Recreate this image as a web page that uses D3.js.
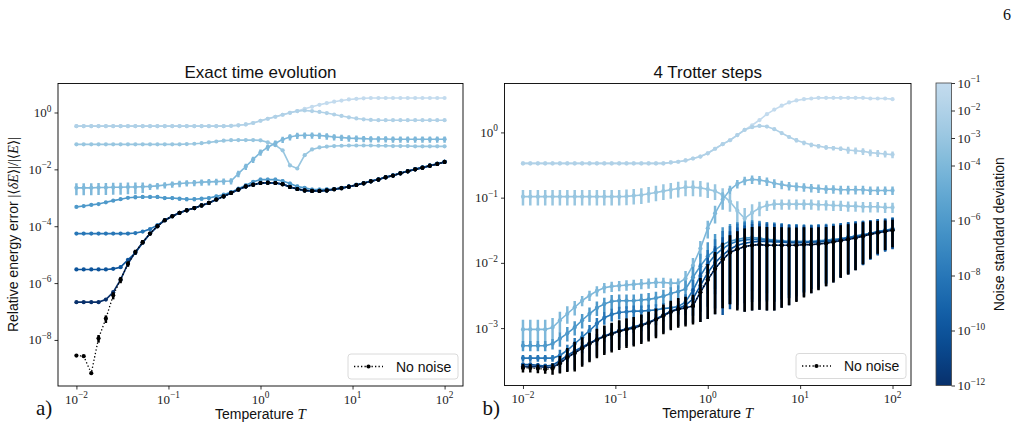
<!DOCTYPE html>
<html>
<head>
<meta charset="utf-8">
<script src="https://cdn.jsdelivr.net/npm/d3@7"></script>
<style>
  body { margin: 0; background: #fff; }
  svg { display: block; }
</style>
</head>
<body>
<div id="chart"></div>
<script>
// temperature grid (51 points, 1e-2 .. 1e2)
const temperatures = [0.01, 0.0120, 0.0145, 0.0174, 0.0209, 0.0251, 0.0302, 0.0363, 0.0437, 0.0525,
  0.0631, 0.0759, 0.0912, 0.110, 0.132, 0.158, 0.191, 0.229, 0.275, 0.331,
  0.398, 0.479, 0.575, 0.692, 0.832, 1.00, 1.20, 1.45, 1.74, 2.09,
  2.51, 3.02, 3.63, 4.37, 5.25, 6.31, 7.59, 9.12, 11.0, 13.2,
  15.8, 19.1, 22.9, 27.5, 33.1, 39.8, 47.9, 57.5, 69.2, 83.2, 100];

const noiseLevels = [1e-1, 1e-2, 1e-3, 1e-4, 1e-6, 1e-8, 1e-10, 1e-12];
const xTickExps = [-2, -1, 0, 1, 2];
const exactYTickExps = [-8, -6, -4, -2, 0];
const trotterYTickExps = [-3, -2, -1, 0];
const cbarTickExps = [-1, -2, -3, -4, -6, -8, -10, -12];

// ---- a) exact time evolution, log10 of relative energy error ----
const exactSig01 = [-0.48,-0.48,-0.48,-0.48,-0.48,-0.48,-0.48,-0.48,-0.48,-0.48,
  -0.48,-0.48,-0.48,-0.48,-0.48,-0.48,-0.48,-0.48,-0.48,-0.48,
  -0.48,-0.47,-0.45,-0.42,-0.37,-0.29,-0.22,-0.15,-0.08,-0.01,
  0.05,0.13,0.20,0.27,0.33,0.38,0.42,0.46,0.48,0.50,
  0.51,0.51,0.51,0.51,0.51,0.51,0.51,0.51,0.51,0.51,0.51];
const exactSig02 = [-0.48,-0.48,-0.48,-0.48,-0.48,-0.48,-0.48,-0.48,-0.48,-0.48,
  -0.48,-0.48,-0.48,-0.48,-0.48,-0.48,-0.48,-0.48,-0.48,-0.48,
  -0.48,-0.47,-0.45,-0.42,-0.37,-0.29,-0.22,-0.15,-0.08,-0.01,
  0.05,0.07,0.05,0.02,-0.02,-0.07,-0.12,-0.17,-0.21,-0.24,
  -0.26,-0.27,-0.27,-0.27,-0.27,-0.27,-0.27,-0.27,-0.27,-0.27,-0.27];
const exactSig03 = [-1.12,-1.12,-1.12,-1.12,-1.12,-1.12,-1.12,-1.12,-1.12,-1.12,
  -1.12,-1.12,-1.12,-1.12,-1.12,-1.11,-1.10,-1.08,-1.05,-1.02,
  -0.99,-0.975,-0.97,-0.97,-0.97,-0.98,-1.05,-1.15,-1.33,-1.86,
  -1.97,-1.50,-1.30,-1.23,-1.20,-1.18,-1.17,-1.16,-1.16,-1.16,
  -1.16,-1.17,-1.17,-1.18,-1.18,-1.18,-1.19,-1.19,-1.19,-1.19,-1.19];
const exactSig04 = [-2.65,-2.65,-2.65,-2.64,-2.64,-2.63,-2.63,-2.62,-2.62,-2.61,
  -2.60,-2.58,-2.55,-2.52,-2.50,-2.48,-2.47,-2.45,-2.44,-2.43,
  -2.42,-2.41,-2.15,-1.90,-1.65,-1.40,-1.22,-1.08,-0.95,-0.86,
  -0.81,-0.80,-0.80,-0.81,-0.83,-0.86,-0.88,-0.90,-0.91,-0.92,
  -0.93,-0.93,-0.93,-0.94,-0.94,-0.94,-0.94,-0.94,-0.94,-0.94,-0.94];
const exactSig06 = [-3.32,-3.29,-3.25,-3.22,-3.16,-3.10,-3.05,-3.00,-2.98,-2.97,
  -2.97,-2.97,-3.01,-3.01,-3.03,-3.05,-3.05,-3.03,-3.01,-2.95,
  -2.89,-2.80,-2.68,-2.56,-2.44,-2.36,-2.36,-2.36,-2.41,-2.50,
  -2.60,-2.65,-2.71,-2.71,-2.70,-2.69,-2.65,-2.60,-2.54,-2.48,
  -2.41,-2.35,-2.27,-2.21,-2.13,-2.06,-1.99,-1.93,-1.86,-1.80,-1.73];
const exactSig08 = [-4.26,-4.26,-4.26,-4.26,-4.26,-4.26,-4.26,-4.26,-4.24,-4.19,
  -4.10,-3.96,-3.79,-3.65,-3.53,-3.44,-3.36,-3.27,-3.18,-3.06,
  -2.95,-2.83,-2.71,-2.60,-2.54,-2.48,-2.47,-2.48,-2.52,-2.62,
  -2.69,-2.74,-2.76,-2.76,-2.74,-2.70,-2.66,-2.61,-2.55,-2.49,
  -2.42,-2.36,-2.28,-2.22,-2.14,-2.07,-2.00,-1.94,-1.87,-1.81,-1.74];
const exactSig10 = [-5.52,-5.52,-5.52,-5.52,-5.52,-5.50,-5.44,-5.18,-4.94,-4.58,
  -4.26,-4.00,-3.79,-3.65,-3.53,-3.44,-3.36,-3.27,-3.18,-3.06,
  -2.95,-2.83,-2.71,-2.60,-2.54,-2.48,-2.47,-2.48,-2.52,-2.62,
  -2.69,-2.74,-2.76,-2.76,-2.74,-2.70,-2.66,-2.61,-2.55,-2.49,
  -2.42,-2.36,-2.28,-2.22,-2.14,-2.07,-2.00,-1.94,-1.87,-1.81,-1.74];
const exactSig12 = [-6.67,-6.67,-6.67,-6.67,-6.58,-6.32,-5.88,-5.32,-4.91,-4.56,
  -4.26,-4.00,-3.79,-3.65,-3.53,-3.44,-3.36,-3.27,-3.18,-3.06,
  -2.95,-2.83,-2.71,-2.60,-2.54,-2.48,-2.47,-2.48,-2.52,-2.62,
  -2.69,-2.74,-2.76,-2.76,-2.74,-2.70,-2.66,-2.61,-2.55,-2.49,
  -2.42,-2.36,-2.28,-2.22,-2.14,-2.07,-2.00,-1.94,-1.87,-1.81,-1.74];
const exactNoNoise = [-8.55,-8.57,-9.17,-7.94,-7.25,-6.43,-5.88,-5.32,-4.91,-4.56,
  -4.26,-4.00,-3.79,-3.65,-3.53,-3.44,-3.36,-3.27,-3.18,-3.06,
  -2.95,-2.83,-2.71,-2.60,-2.54,-2.48,-2.47,-2.48,-2.52,-2.62,
  -2.69,-2.74,-2.76,-2.76,-2.74,-2.70,-2.66,-2.61,-2.55,-2.49,
  -2.42,-2.36,-2.28,-2.22,-2.14,-2.07,-2.00,-1.94,-1.87,-1.81,-1.74];

// relative standard deviation (error bar half length / value)
const exactErrSig04 = [0.45,0.45,0.45,0.45,0.45,0.45,0.45,0.45,0.45,0.40,
  0.25,0.25,0.25,0.25,0.25,0.25,0.25,0.25,0.25,0.25,
  0.25,0.25,0.25,0.25,0.25,0.25,0.25,0.25,0.25,0.25,
  0.25,0.25,0.25,0.25,0.25,0.25,0.25,0.25,0.25,0.25,
  0.25,0.25,0.25,0.25,0.25,0.25,0.25,0.25,0.25,0.25,0.25];
const exactErrSig06 = [0.08,0.08,0.08,0.08,0.08,0.08,0.08,0.08,0.15,0.15,
  0.15,0.15,0.15,0.15,0.15,0.15,0.15,0.15,0.15,0.15,
  0.15,0.15,0.15,0.15,0.15,0.15,0.15,0.15,0.15,0.15,
  0.15,0.15,0.15,0.15,0.15,0.15,0.15,0.15,0.15,0.15,
  0.15,0.15,0.15,0.15,0.15,0.15,0.15,0.15,0.15,0.15,0.15];
const exactErrNoNoise = [0.05,0.05,0.05,0.30,0.30,0.28,0.25,0.22,0.20,0.18,
  0.15,0.15,0.15,0.15,0.15,0.15,0.15,0.15,0.15,0.15,
  0.15,0.15,0.15,0.15,0.15,0.15,0.15,0.15,0.15,0.15,
  0.15,0.15,0.15,0.15,0.15,0.15,0.15,0.15,0.15,0.15,
  0.15,0.15,0.15,0.15,0.15,0.15,0.15,0.15,0.15,0.15,0.15];

// ---- b) 4 Trotter steps, log10 of relative energy error ----
const trotterSig01 = [-0.475,-0.475,-0.475,-0.475,-0.475,-0.475,-0.475,-0.475,-0.475,-0.475,
  -0.475,-0.475,-0.475,-0.475,-0.475,-0.475,-0.475,-0.475,-0.475,-0.475,
  -0.46,-0.45,-0.43,-0.40,-0.37,-0.32,-0.25,-0.18,-0.12,-0.04,
  0.04,0.11,0.19,0.28,0.35,0.41,0.46,0.49,0.51,0.52,
  0.53,0.53,0.53,0.53,0.53,0.53,0.53,0.52,0.52,0.52,0.51];
const trotterSig02 = [-0.475,-0.475,-0.475,-0.475,-0.475,-0.475,-0.475,-0.475,-0.475,-0.475,
  -0.475,-0.475,-0.475,-0.475,-0.475,-0.475,-0.475,-0.475,-0.475,-0.475,
  -0.46,-0.45,-0.43,-0.40,-0.37,-0.32,-0.25,-0.18,-0.12,-0.04,
  0.04,0.08,0.10,0.09,0.05,-0.01,-0.07,-0.12,-0.16,-0.19,
  -0.21,-0.23,-0.24,-0.25,-0.27,-0.28,-0.29,-0.31,-0.32,-0.33,-0.34];
const trotterSig03 = [-0.985,-0.985,-0.985,-0.985,-0.985,-0.985,-0.985,-0.985,-0.985,-0.985,
  -0.985,-0.985,-0.985,-0.985,-0.98,-0.97,-0.96,-0.94,-0.92,-0.90,
  -0.88,-0.86,-0.84,-0.84,-0.85,-0.87,-0.90,-0.96,-1.06,-1.20,
  -1.32,-1.23,-1.16,-1.12,-1.10,-1.10,-1.10,-1.10,-1.10,-1.10,
  -1.11,-1.11,-1.12,-1.12,-1.13,-1.13,-1.14,-1.14,-1.14,-1.15,-1.15];
const trotterSig04 = [-3.02,-3.02,-3.02,-3.02,-2.99,-2.88,-2.78,-2.68,-2.58,-2.50,
  -2.43,-2.38,-2.36,-2.35,-2.34,-2.33,-2.32,-2.31,-2.30,-2.30,
  -2.31,-2.31,-2.24,-2.04,-1.78,-1.47,-1.24,-1.03,-0.88,-0.79,
  -0.74,-0.72,-0.73,-0.75,-0.78,-0.80,-0.82,-0.83,-0.84,-0.85,
  -0.86,-0.87,-0.87,-0.88,-0.88,-0.88,-0.88,-0.89,-0.89,-0.89,-0.89];
const trotterSig06 = [-3.27,-3.27,-3.27,-3.27,-3.24,-3.16,-3.08,-2.99,-2.88,-2.78,
  -2.69,-2.63,-2.59,-2.58,-2.58,-2.58,-2.57,-2.56,-2.54,-2.51,
  -2.47,-2.44,-2.40,-2.22,-2.05,-1.90,-1.80,-1.72,-1.67,-1.64,
  -1.62,-1.61,-1.62,-1.64,-1.65,-1.66,-1.67,-1.67,-1.67,-1.67,
  -1.66,-1.65,-1.64,-1.63,-1.61,-1.59,-1.57,-1.55,-1.52,-1.50,-1.48];
const trotterSig08 = [-3.46,-3.46,-3.46,-3.46,-3.46,-3.42,-3.34,-3.24,-3.14,-3.04,
  -2.93,-2.84,-2.79,-2.76,-2.75,-2.74,-2.74,-2.73,-2.72,-2.70,
  -2.69,-2.67,-2.60,-2.42,-2.20,-2.02,-1.88,-1.78,-1.71,-1.67,
  -1.65,-1.64,-1.64,-1.65,-1.66,-1.67,-1.68,-1.68,-1.68,-1.68,
  -1.67,-1.66,-1.65,-1.63,-1.61,-1.59,-1.57,-1.55,-1.52,-1.50,-1.48];
const trotterSig10 = [-3.56,-3.56,-3.57,-3.58,-3.57,-3.50,-3.42,-3.35,-3.29,-3.23,
  -3.17,-3.12,-3.08,-3.04,-3.01,-2.98,-2.95,-2.91,-2.86,-2.80,
  -2.74,-2.70,-2.65,-2.55,-2.35,-2.15,-2.00,-1.88,-1.79,-1.73,
  -1.70,-1.68,-1.67,-1.67,-1.68,-1.68,-1.69,-1.69,-1.69,-1.68,
  -1.68,-1.67,-1.66,-1.64,-1.62,-1.60,-1.58,-1.55,-1.53,-1.51,-1.49];
const trotterSig12 = [-3.59,-3.59,-3.59,-3.60,-3.60,-3.54,-3.45,-3.38,-3.31,-3.24,
  -3.18,-3.13,-3.09,-3.05,-3.02,-3.00,-2.96,-2.92,-2.87,-2.81,
  -2.75,-2.71,-2.69,-2.66,-2.45,-2.26,-2.09,-1.95,-1.84,-1.79,
  -1.75,-1.73,-1.72,-1.73,-1.73,-1.73,-1.73,-1.73,-1.72,-1.72,
  -1.71,-1.70,-1.68,-1.66,-1.64,-1.62,-1.59,-1.56,-1.54,-1.52,-1.50];
const trotterNoNoise = [-3.61,-3.61,-3.62,-3.63,-3.62,-3.54,-3.45,-3.38,-3.31,-3.24,
  -3.18,-3.13,-3.09,-3.05,-3.02,-3.00,-2.96,-2.92,-2.87,-2.81,
  -2.75,-2.71,-2.69,-2.66,-2.45,-2.26,-2.09,-1.95,-1.84,-1.79,
  -1.75,-1.73,-1.72,-1.73,-1.73,-1.73,-1.73,-1.73,-1.72,-1.72,
  -1.71,-1.70,-1.68,-1.66,-1.64,-1.62,-1.59,-1.56,-1.54,-1.52,-1.50];

const trotterErrSig02 = [0.02,0.02,0.02,0.02,0.02,0.02,0.02,0.02,0.02,0.02,
  0.02,0.02,0.02,0.02,0.02,0.02,0.02,0.02,0.02,0.02,
  0.02,0.02,0.02,0.02,0.02,0.02,0.02,0.02,0.02,0.02,
  0.02,0.05,0.05,0.05,0.05,0.05,0.05,0.08,0.08,0.08,
  0.08,0.08,0.08,0.08,0.12,0.12,0.12,0.12,0.12,0.12,0.12];
const trotterErrSig03 = [0.27,0.27,0.27,0.27,0.27,0.27,0.27,0.27,0.27,0.27,
  0.27,0.27,0.27,0.27,0.27,0.27,0.27,0.27,0.27,0.27,
  0.27,0.27,0.27,0.27,0.27,0.27,0.27,0.27,0.30,0.40,
  0.45,0.35,0.25,0.18,0.18,0.18,0.18,0.18,0.18,0.18,
  0.18,0.18,0.18,0.18,0.18,0.18,0.18,0.18,0.18,0.18,0.18];
const trotterErrSig04 = [0.40,0.40,0.40,0.40,0.40,0.35,0.30,0.25,0.18,0.18,
  0.18,0.18,0.18,0.18,0.18,0.18,0.18,0.18,0.18,0.18,
  0.18,0.18,0.30,0.30,0.30,0.30,0.30,0.30,0.15,0.15,
  0.15,0.15,0.15,0.15,0.15,0.15,0.15,0.15,0.15,0.15,
  0.15,0.15,0.15,0.15,0.15,0.15,0.15,0.15,0.15,0.15,0.15];
const trotterErrSig06 = [0.18,0.18,0.18,0.18,0.18,0.25,0.25,0.25,0.25,0.25,
  0.25,0.25,0.25,0.25,0.25,0.25,0.25,0.25,0.25,0.25,
  0.25,0.25,0.35,0.45,0.55,0.65,0.75,0.85,0.85,0.85,
  0.85,0.85,0.85,0.85,0.85,0.85,0.85,0.84,0.83,0.81,
  0.80,0.78,0.76,0.74,0.72,0.69,0.65,0.60,0.56,0.52,0.50];
const trotterErrSig08 = [0.12,0.12,0.12,0.12,0.12,0.22,0.22,0.22,0.22,0.22,
  0.22,0.22,0.22,0.22,0.22,0.22,0.22,0.22,0.22,0.22,
  0.22,0.22,0.32,0.45,0.55,0.65,0.75,0.85,0.88,0.88,
  0.88,0.88,0.88,0.88,0.88,0.87,0.86,0.85,0.83,0.81,
  0.80,0.78,0.76,0.74,0.72,0.69,0.65,0.60,0.56,0.52,0.50];
const trotterErrSig10 = [0.08,0.08,0.08,0.08,0.08,0.20,0.20,0.20,0.20,0.20,
  0.20,0.20,0.20,0.20,0.20,0.20,0.20,0.20,0.20,0.20,
  0.20,0.20,0.30,0.45,0.60,0.70,0.80,0.88,0.88,0.88,
  0.88,0.88,0.88,0.88,0.88,0.87,0.86,0.85,0.83,0.81,
  0.80,0.78,0.76,0.74,0.72,0.69,0.65,0.60,0.56,0.52,0.50];
const trotterErrSig12 = [0.06,0.06,0.06,0.06,0.06,0.28,0.38,0.45,0.45,0.45,
  0.45,0.45,0.45,0.45,0.45,0.45,0.45,0.45,0.45,0.45,
  0.45,0.45,0.45,0.45,0.65,0.75,0.80,0.82,0.84,0.88,
  0.90,0.90,0.90,0.90,0.90,0.89,0.88,0.86,0.84,0.82,
  0.80,0.78,0.76,0.73,0.71,0.68,0.63,0.58,0.52,0.48,0.45];
const trotterErrNoNoise = [0.15,0.15,0.15,0.15,0.20,0.30,0.40,0.48,0.48,0.48,
  0.48,0.48,0.48,0.48,0.48,0.48,0.48,0.48,0.48,0.48,
  0.48,0.48,0.48,0.48,0.65,0.75,0.80,0.82,0.84,0.885,
  0.90,0.90,0.90,0.90,0.90,0.89,0.88,0.865,0.845,0.82,
  0.805,0.78,0.76,0.73,0.71,0.68,0.63,0.58,0.52,0.48,0.45];

// colormap: Blues, truncated, log-normalised between 1e-12 and 1e-1
const noiseColor = s => d3.interpolateBlues(1 - 0.75 * (Math.log10(s) + 12) / 11);

const exactSeries = [
  {sigma: noiseLevels[0], values: exactSig01, err: null},
  {sigma: noiseLevels[1], values: exactSig02, err: null},
  {sigma: noiseLevels[2], values: exactSig03, err: null},
  {sigma: noiseLevels[3], values: exactSig04, err: exactErrSig04},
  {sigma: noiseLevels[4], values: exactSig06, err: exactErrSig06},
  {sigma: noiseLevels[5], values: exactSig08, err: null},
  {sigma: noiseLevels[6], values: exactSig10, err: null},
  {sigma: noiseLevels[7], values: exactSig12, err: null}
];
const trotterSeries = [
  {sigma: noiseLevels[0], values: trotterSig01, err: null},
  {sigma: noiseLevels[1], values: trotterSig02, err: trotterErrSig02},
  {sigma: noiseLevels[2], values: trotterSig03, err: trotterErrSig03},
  {sigma: noiseLevels[3], values: trotterSig04, err: trotterErrSig04},
  {sigma: noiseLevels[4], values: trotterSig06, err: trotterErrSig06},
  {sigma: noiseLevels[5], values: trotterSig08, err: trotterErrSig08},
  {sigma: noiseLevels[6], values: trotterSig10, err: trotterErrSig10},
  {sigma: noiseLevels[7], values: trotterSig12, err: trotterErrSig12}
];

const SERIF = "'Liberation Serif', 'DejaVu Serif', serif";
const SANS = "'Liberation Sans', Arial, sans-serif";

const svg = d3.select("#chart").append("svg")
  .attr("width", 1020).attr("height", 432)
  .style("font-family", SANS);

// writes 10^exp into a text selection
function powerLabel(sel, exp, size) {
  sel.style("font-family", SERIF).attr("font-size", size).attr("fill", "#222");
  sel.append("tspan").text("10");
  sel.append("tspan").attr("dy", -size * 0.42).attr("font-size", size * 0.72)
    .text(exp < 0 ? "\u2212" + (-exp) : String(exp));
}

class NoisePanel {
  constructor(_config, _series, _noiseless, _noiselessErr) {
    this.config = _config;
    this.series = _series;
    this.noiseless = _noiseless;
    this.noiselessErr = _noiselessErr;
    this.initVis();
  }

  initVis() {
    let vis = this;
    const c = vis.config;
    vis.g = svg.append("g").attr("transform", `translate(${c.left},${c.top})`);

    vis.xScale = d3.scaleLog().domain([10 ** -2.2, 10 ** 2.2]).range([0, c.width]);
    vis.yScale = d3.scaleLog().domain(c.yDomain).range([c.height, 0]);

    vis.g.append("clipPath").attr("id", c.id + "-clip")
      .append("rect").attr("width", c.width).attr("height", c.height);

    vis.renderVis();
  }

  renderVis() {
    let vis = this;
    const c = vis.config;
    const x = vis.xScale, y = vis.yScale;
    const yMin = c.yDomain[0];

    const plot = vis.g.append("g").attr("clip-path", `url(#${c.id}-clip)`);

    const drawSeries = (values, err, color, dotted) => {
      const pts = temperatures.map((t, i) => ({t: t, v: 10 ** values[i], r: err ? err[i] : 0}));
      const grp = plot.append("g");
      if (err) {
        grp.selectAll("line.bar").data(pts).join("line")
          .attr("class", "bar")
          .attr("x1", d => x(d.t)).attr("x2", d => x(d.t))
          .attr("y1", d => y(Math.max(d.v * (1 - d.r), yMin)))
          .attr("y2", d => y(d.v * (1 + d.r)))
          .attr("stroke", color)
          .attr("stroke-width", 2.5);
      }
      grp.append("path")
        .datum(pts)
        .attr("fill", "none")
        .attr("stroke", color)
        .attr("stroke-width", dotted ? 1.3 : 1.6)
        .attr("stroke-dasharray", dotted ? "1.3,2.2" : null)
        .attr("d", d3.line().x(d => x(d.t)).y(d => y(d.v)));
      grp.selectAll("circle").data(pts).join("circle")
        .attr("cx", d => x(d.t)).attr("cy", d => y(d.v))
        .attr("r", 2.1)
        .attr("fill", color);
    };

    vis.series.forEach(s => drawSeries(s.values, s.err, noiseColor(s.sigma), false));
    drawSeries(vis.noiseless, vis.noiselessErr, "#000", true);

    // x axis ticks
    const xMinor = [];
    for (let e = -3; e <= 2; e++) {
      for (let m = 2; m <= 9; m++) {
        const v = m * 10 ** e;
        if (v > x.domain()[0] && v < x.domain()[1]) xMinor.push(v);
      }
    }
    const xAxisG = vis.g.append("g").attr("transform", `translate(0,${c.height})`);
    xAxisG.call(d3.axisBottom(x).tickValues(xMinor).tickSize(2).tickFormat(""));
    xAxisG.call(d3.axisBottom(x).tickValues(xTickExps.map(e => 10 ** e)).tickSize(3.5).tickFormat(""));
    xAxisG.selectAll(".domain").remove();
    xAxisG.selectAll("line").attr("stroke", "#000").attr("stroke-width", 0.8);

    xTickExps.forEach(e => {
      const t = vis.g.append("text")
        .attr("x", x(10 ** e)).attr("y", c.height + 17.5)
        .attr("text-anchor", "middle");
      powerLabel(t, e, 13);
    });

    // y axis ticks
    const yAxisG = vis.g.append("g");
    if (c.yMinor) {
      const yMinorVals = [];
      for (let e = -5; e <= 1; e++) {
        for (let m = 2; m <= 9; m++) {
          const v = m * 10 ** e;
          if (v > c.yDomain[0] && v < c.yDomain[1]) yMinorVals.push(v);
        }
      }
      yAxisG.call(d3.axisLeft(y).tickValues(yMinorVals).tickSize(2).tickFormat(""));
    }
    yAxisG.call(d3.axisLeft(y).tickValues(c.yTicks.map(e => 10 ** e)).tickSize(3.5).tickFormat(""));
    yAxisG.selectAll(".domain").remove();
    yAxisG.selectAll("line").attr("stroke", "#000").attr("stroke-width", 0.8);

    c.yTicks.forEach(e => {
      const t = vis.g.append("text")
        .attr("x", -6.5).attr("y", y(10 ** e) + 4.5)
        .attr("text-anchor", "end");
      powerLabel(t, e, 13);
    });

    // frame
    vis.g.append("rect")
      .attr("width", c.width).attr("height", c.height)
      .attr("fill", "none").attr("stroke", "#000").attr("stroke-width", 0.9);

    // title
    vis.g.append("text")
      .attr("x", c.width / 2).attr("y", -5.5)
      .attr("text-anchor", "middle")
      .attr("font-size", 17).attr("fill", "#111")
      .text(c.title);

    // x label
    const xl = vis.g.append("text")
      .attr("x", c.width / 2).attr("y", c.height + 32.5)
      .attr("text-anchor", "middle").attr("font-size", 14).attr("fill", "#111");
    xl.append("tspan").text("Temperature ");
    xl.append("tspan").style("font-family", SERIF).attr("font-style", "italic").attr("font-size", 15).text("T");

    // panel letter
    vis.g.append("text")
      .attr("x", c.letterX).attr("y", c.height + 29)
      .style("font-family", SERIF).attr("font-size", 21).attr("fill", "#111")
      .text(c.letter);

    // legend
    const lg = vis.g.append("g").attr("transform", `translate(${c.width - 115},${c.height - 32})`);
    lg.append("rect")
      .attr("width", 110).attr("height", 25).attr("rx", 3)
      .attr("fill", "#fff").attr("fill-opacity", 0.8)
      .attr("stroke", "#d6d6d6").attr("stroke-width", 0.9);
    lg.append("line")
      .attr("x1", 6).attr("x2", 35).attr("y1", 12.5).attr("y2", 12.5)
      .attr("stroke", "#000").attr("stroke-width", 1.3).attr("stroke-dasharray", "1.3,2.2");
    lg.append("circle").attr("cx", 20.5).attr("cy", 12.5).attr("r", 2.1).attr("fill", "#000");
    lg.append("text")
      .attr("x", 48).attr("y", 17.5)
      .attr("font-size", 14).attr("fill", "#111")
      .text("No noise");
  }
}

const exactPanel = new NoisePanel({
  id: "exact", left: 58, top: 83.5, width: 405, height: 302.5,
  yDomain: [10 ** -9.62, 10 ** 1.02], yTicks: exactYTickExps, yMinor: false,
  title: "Exact time evolution", letter: "a)", letterX: -22
}, exactSeries, exactNoNoise, exactErrNoNoise);

const trotterPanel = new NoisePanel({
  id: "trotter", left: 504.5, top: 83.5, width: 406.5, height: 302,
  yDomain: [10 ** -3.88, 10 ** 0.75], yTicks: trotterYTickExps, yMinor: true,
  title: "4 Trotter steps", letter: "b)", letterX: -22
}, trotterSeries, trotterNoNoise, trotterErrNoNoise);

// y label of panel a)
const yl = svg.append("text")
  .attr("transform", "translate(18,234.5) rotate(-90)")
  .attr("text-anchor", "middle").attr("font-size", 14).attr("fill", "#111");
yl.append("tspan").text("Relative energy error ");
yl.append("tspan").style("font-family", SERIF).text("|\u27E8");
yl.append("tspan").style("font-family", SERIF).attr("font-style", "italic").text("\u03B4E");
yl.append("tspan").style("font-family", SERIF).text("\u27E9|/|\u27E8");
yl.append("tspan").style("font-family", SERIF).attr("font-style", "italic").text("E");
yl.append("tspan").style("font-family", SERIF).text("\u27E9|");

// colorbar
const cb = {left: 936, top: 83, width: 15.5, height: 302.5};
const cbScale = d3.scaleLog().domain([1e-12, 1e-1]).range([cb.top + cb.height, cb.top]);
const grad = svg.append("defs").append("linearGradient")
  .attr("id", "cbar-grad").attr("x1", 0).attr("y1", 1).attr("x2", 0).attr("y2", 0);
d3.range(0, 1.0001, 0.05).forEach(f => {
  grad.append("stop").attr("offset", f).attr("stop-color", d3.interpolateBlues(1 - 0.75 * f));
});
svg.append("rect")
  .attr("x", cb.left).attr("y", cb.top).attr("width", cb.width).attr("height", cb.height)
  .attr("fill", "url(#cbar-grad)").attr("stroke", "#444").attr("stroke-width", 0.8);
const cbAxis = svg.append("g").attr("transform", `translate(${cb.left + cb.width},0)`)
  .call(d3.axisRight(cbScale).tickValues(cbarTickExps.map(e => 10 ** e)).tickSize(3.5).tickFormat(""));
cbAxis.select(".domain").remove();
cbAxis.selectAll("line").attr("stroke", "#000").attr("stroke-width", 0.8);
cbarTickExps.forEach(e => {
  const t = svg.append("text")
    .attr("x", cb.left + cb.width + 6).attr("y", cbScale(10 ** e) + 4.5);
  powerLabel(t, e, 13);
});
svg.append("text")
  .attr("transform", `translate(1004,${cb.top + cb.height / 2}) rotate(-90)`)
  .attr("text-anchor", "middle").attr("font-size", 14).attr("fill", "#111")
  .text("Noise standard deviation");

// page number
svg.append("text")
  .attr("x", 1003).attr("y", 20)
  .style("font-family", SERIF).attr("font-size", 16).attr("fill", "#111")
  .text("6");
</script>
</body>
</html>
